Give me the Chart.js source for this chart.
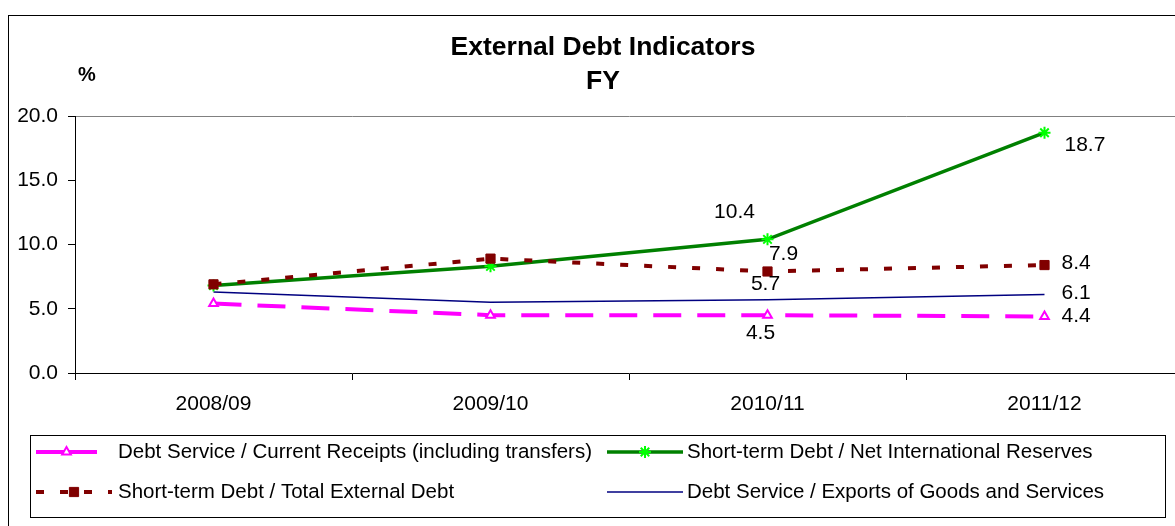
<!DOCTYPE html>
<html>
<head>
<meta charset="utf-8">
<script src="https://cdn.jsdelivr.net/npm/chart.js@4.4.0/dist/chart.umd.min.js"></script>
<style>
  html, body { margin: 0; padding: 0; background: #fff; overflow: hidden; }
  #wrap { width: 1192px; height: 526px; }
</style>
</head>
<body>
<div id="wrap"><canvas id="debtChart" width="1192" height="526"></canvas></div>
<script>
const years = ['2008/09', '2009/10', '2010/11', '2011/12'];
const yTicks = [0, 5, 10, 15, 20];

const dsCurrentReceipts = [5.4, 4.5, 4.5, 4.4];
const stdNetReserves = [6.8, 8.3, 10.4, 18.7];
const stdTotalDebt = [6.9, 8.9, 7.9, 8.4];
const dsExports = [6.3, 5.5, 5.7, 6.1];

const seriesNames = [
  'Debt Service / Current Receipts (including transfers)',
  'Short-term Debt / Net International Reserves',
  'Short-term Debt / Total External Debt',
  'Debt Service / Exports of Goods and Services'
];

const FONT = '"Liberation Sans", Arial, sans-serif';

// value labels only on the last two years; [dataset, index, dx, dy, align]
const valueLabels = [
  [1, 2, -33, -27, 'center'],
  [1, 3, 20, 12, 'left'],
  [2, 2, 16, -17, 'center'],
  [2, 3, 17, -2, 'left'],
  [3, 2, -2, -16, 'center'],
  [3, 3, 17, -1, 'left'],
  [0, 2, -7, 18, 'center'],
  [0, 3, 17, 0, 'left']
];

const styles = [
  { color: '#ff00ff', width: 4, dash: [28, 16], point: 'triangle', radius: 5, pointFill: '#ffffff', pointBorder: '#ff00ff', pointWidth: 2 },
  { color: '#008000', width: 3.5, dash: [], point: 'star', radius: 6, pointFill: '#00ff00', pointBorder: '#00ff00', pointWidth: 2 },
  { color: '#800000', width: 4, dash: [8, 16], point: 'rect', radius: 6.5, pointFill: '#800000', pointBorder: '#800000', pointWidth: 1 },
  { color: '#000080', width: 1.5, dash: [], point: false, radius: 0, pointFill: '#000080', pointBorder: '#000080', pointWidth: 1 }
];

const values = [dsCurrentReceipts, stdNetReserves, stdTotalDebt, dsExports];

const datasets = values.map((v, i) => ({
  label: seriesNames[i],
  data: v,
  borderColor: styles[i].color,
  borderWidth: styles[i].width,
  borderDash: styles[i].dash,
  pointStyle: styles[i].point,
  pointRadius: styles[i].radius,
  pointBackgroundColor: styles[i].pointFill,
  pointBorderColor: styles[i].pointBorder,
  pointBorderWidth: styles[i].pointWidth,
  tension: 0,
  order: [3, 2, 1, 4][i]
}));

const decorations = {
  id: 'decorations',
  afterDraw(chart) {
    const ctx = chart.ctx;
    ctx.save();

    // outer frame
    ctx.strokeStyle = '#000';
    ctx.lineWidth = 1;
    ctx.setLineDash([]);
    ctx.strokeRect(8.5, 15.5, 1400, 700);

    // title
    ctx.fillStyle = '#000';
    ctx.textAlign = 'center';
    ctx.textBaseline = 'middle';
    ctx.font = 'bold 26.5px ' + FONT;
    ctx.fillText('External Debt Indicators', 603, 48);
    ctx.fillText('FY', 603, 82);
    ctx.font = 'bold 20px ' + FONT;
    ctx.fillText('%', 87, 75);

    // value labels
    ctx.font = '21px ' + FONT;
    valueLabels.forEach(([d, i, dx, dy, align]) => {
      const pt = chart.getDatasetMeta(d).data[i];
      ctx.textAlign = align;
      ctx.fillText(values[d][i].toFixed(1), pt.x + dx, pt.y + dy);
    });

    // legend box
    ctx.strokeStyle = '#000';
    ctx.lineWidth = 1;
    ctx.strokeRect(30.5, 435.5, 1135, 82);
    const rows = [452, 492];
    const cols = [{ x0: 36, x1: 97, text: 118 }, { x0: 607, x1: 683, text: 687 }];
    const slots = [[0, 0], [1, 0], [0, 1], [1, 1]];
    ctx.font = '20.5px ' + FONT;
    ctx.textAlign = 'left';
    slots.forEach(([c, r], i) => {
      const s = styles[i];
      const col = cols[c];
      const y = rows[r];
      const x1 = i === 2 ? 112 : col.x1;
      ctx.strokeStyle = s.color;
      ctx.lineWidth = s.width;
      ctx.setLineDash(i === 2 ? [8, 16] : []);
      ctx.beginPath();
      ctx.moveTo(col.x0, y);
      ctx.lineTo(x1, y);
      ctx.stroke();
      ctx.setLineDash([]);
      if (s.point) {
        ctx.fillStyle = s.pointFill;
        ctx.strokeStyle = s.pointBorder;
        ctx.lineWidth = s.pointWidth;
        Chart.helpers.drawPoint(ctx, { pointStyle: s.point, radius: s.radius, borderWidth: s.pointWidth, rotation: 0 }, (col.x0 + x1) / 2, y);
      }
      ctx.fillStyle = '#000';
      ctx.fillText(seriesNames[i], col.text, y);
    });

    ctx.restore();
  }
};

new Chart(document.getElementById('debtChart'), {
  type: 'line',
  data: { labels: years, datasets },
  options: {
    responsive: false,
    animation: false,
    layout: { padding: { left: 0, top: 116, right: 9, bottom: 103 } },
    plugins: {
      legend: { display: false },
      title: { display: false },
      tooltip: { enabled: false }
    },
    scales: {
      x: {
        offset: true,
        grid: { offset: true, drawOnChartArea: false, tickLength: 7, tickColor: '#000' },
        border: { color: '#000', width: 1 },
        ticks: { color: '#000', font: { family: FONT, size: 21 }, padding: 12, maxRotation: 0 },
        afterFit(scale) { scale.height = 50; }
      },
      y: {
        min: 0,
        max: 20,
        afterBuildTicks(scale) { scale.ticks = yTicks.map(v => ({ value: v })); },
        grid: {
          color: c => (c.tick && c.tick.value === 20 ? '#808080' : 'rgba(0,0,0,0)'),
          tickLength: 7,
          tickColor: '#000'
        },
        border: { color: '#000', width: 1 },
        ticks: { color: '#000', font: { family: FONT, size: 21 }, padding: 10, callback: v => v.toFixed(1) },
        afterFit(scale) { scale.width = 75; }
      }
    }
  },
  plugins: [decorations]
});
</script>
</body>
</html>
